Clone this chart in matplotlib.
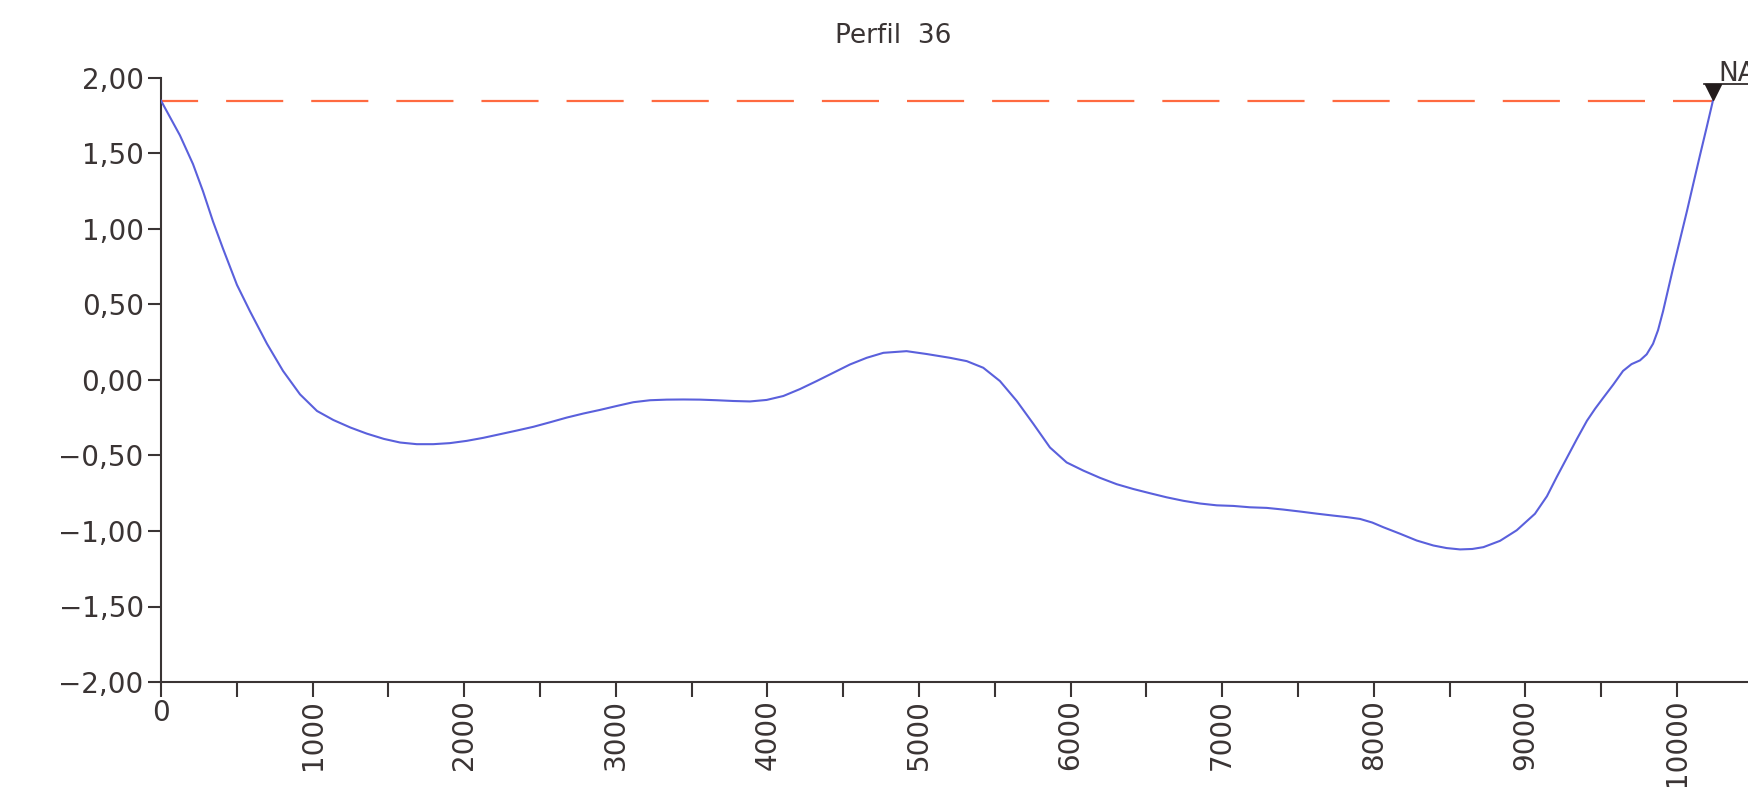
import matplotlib
matplotlib.use("Agg")
import matplotlib.pyplot as plt
from matplotlib.ticker import MultipleLocator, FixedLocator
from matplotlib.transforms import ScaledTranslation

# ---- data ----
title = "Perfil  36"
dist = [0, 125, 211, 277, 343, 409, 501, 587, 699, 805, 917, 1029, 1137, 1250,
        1357, 1470, 1577, 1687, 1796, 1906, 2017, 2126, 2236, 2346, 2456, 2566,
        2676, 2786, 2896, 3006, 3116, 3226, 3336, 3446, 3555, 3665, 3775, 3885,
        3995, 4105, 4215, 4325, 4435, 4545, 4655, 4765, 4918, 5051, 5204, 5315,
        5424, 5534, 5645, 5754, 5864, 5974, 6084, 6194, 6304, 6414, 6524, 6634,
        6744, 6854, 6964, 7074, 7183, 7294, 7403, 7513, 7623, 7733, 7823, 7909,
        7990, 8063, 8173, 8283, 8393, 8480, 8569, 8650, 8723, 8833, 8943, 9063,
        9142, 9208, 9274, 9340, 9406, 9460, 9512, 9580, 9644, 9700, 9756, 9800,
        9842, 9875, 9908, 9974, 10020, 10066, 10110, 10152, 10195, 10237]
elev = [1.85, 1.62, 1.43, 1.25, 1.05, 0.87, 0.63, 0.455, 0.24, 0.06, -0.095,
        -0.205, -0.265, -0.315, -0.355, -0.39, -0.414, -0.425, -0.425, -0.418,
        -0.403, -0.383, -0.359, -0.335, -0.31, -0.28, -0.249, -0.222, -0.198,
        -0.172, -0.147, -0.134, -0.13, -0.129, -0.13, -0.134, -0.139, -0.142,
        -0.132, -0.106, -0.06, -0.007, 0.048, 0.103, 0.147, 0.18, 0.191, 0.172,
        0.147, 0.125, 0.081, -0.007, -0.139, -0.29, -0.447, -0.546, -0.60,
        -0.648, -0.69, -0.722, -0.75, -0.777, -0.80, -0.818, -0.83, -0.834,
        -0.843, -0.847, -0.858, -0.871, -0.885, -0.898, -0.908, -0.92, -0.944,
        -0.975, -1.018, -1.063, -1.096, -1.113, -1.122, -1.119, -1.107, -1.065,
        -0.995, -0.886, -0.77, -0.64, -0.515, -0.39, -0.27, -0.19, -0.12, -0.03,
        0.06, 0.105, 0.13, 0.17, 0.24, 0.33, 0.455, 0.74, 0.93, 1.12, 1.31,
        1.49, 1.67, 1.85]
na_level = 1.85
na_x = 10237
na_label = "NA"
yticks = [-2.0, -1.5, -1.0, -0.5, 0.0, 0.5, 1.0, 1.5, 2.0]
xticks = [0, 1000, 2000, 3000, 4000, 5000, 6000, 7000, 8000, 9000, 10000]
x_max = 10475

# ---- style ----
txt_col = "#3a3434"
plt.rcParams['font.family'] = ['DejaVu Sans']

fig = plt.figure(figsize=(17.49, 7.87), dpi=100)
ax = fig.add_axes([161/1749, 105/787, 1 - 161/1749, (709 - 105)/787])

ax.plot(dist, elev, color="#5a60dc", lw=1.5, zorder=3, solid_joinstyle="round")
ax.plot([0, na_x], [na_level, na_level], color="#ff6a40", lw=1.6,
        linestyle=(9, (25.7, 12.6)), zorder=2)

ax.set_xlim(0, x_max)
ax.set_ylim(-2, 2)

for s in ("top", "right"):
    ax.spines[s].set_visible(False)
for s in ("left", "bottom"):
    ax.spines[s].set_color(txt_col)
    ax.spines[s].set_linewidth(1.5)

ax.yaxis.set_major_locator(FixedLocator(yticks))
ax.set_yticklabels([("%.2f" % v).replace(".", ",").replace("-", "\u2212") for v in yticks])
ax.xaxis.set_major_locator(FixedLocator(xticks))
ax.xaxis.set_minor_locator(MultipleLocator(500))
ax.set_xticklabels([str(v) for v in xticks])

ax.tick_params(axis="y", length=9.5, width=1.5, color=txt_col, labelcolor=txt_col,
               labelsize=20, pad=3)
ax.tick_params(axis="x", which="both", length=10.5, width=1.5, color=txt_col)
ax.tick_params(axis="x", labelcolor=txt_col, labelsize=20, pad=1.5, labelrotation=90)
for lab in ax.get_xticklabels():
    lab.set_va("top")
ax.get_xticklabels()[0].set_rotation(0)

fig.text(893/1749, 1 - 36/787, title, ha="center", va="center",
         fontsize=19, color=txt_col)

# NA marker
off = ScaledTranslation(0, 6.2/72, fig.dpi_scale_trans)
ax.plot([na_x], [na_level], marker="v", markersize=12, color="#231c1c",
        transform=ax.transData + off, clip_on=False, zorder=5)
off2 = ScaledTranslation(0, 12.3/72, fig.dpi_scale_trans)
ax.plot([na_x - 60, x_max], [na_level, na_level], color="#231c1c", lw=1.2,
        transform=ax.transData + off2, clip_on=False, zorder=5)
ax.annotate(na_label, (na_x, na_level), xytext=(4, 13.8), textcoords="offset points",
            ha="left", va="baseline", fontsize=19, color=txt_col, annotation_clip=False)

fig.savefig("out.png", dpi=100)
